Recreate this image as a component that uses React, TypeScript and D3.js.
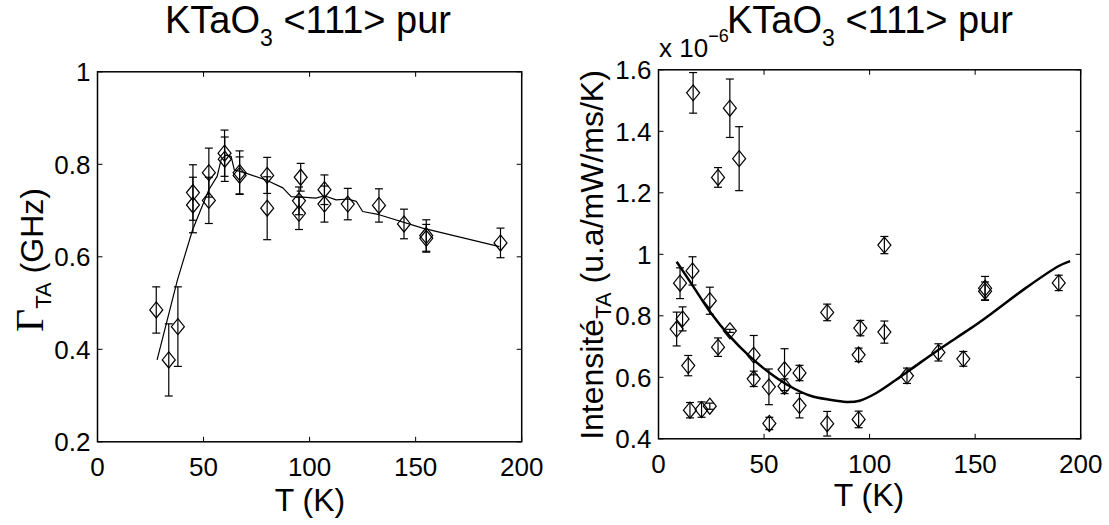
import React from 'react';
import * as d3 from 'd3';

// ---------- data ----------
const xTicks = [0, 50, 100, 150, 200];
const leftYTicks = [0.2, 0.4, 0.6, 0.8, 1];
const rightYTicks = [0.4, 0.6, 0.8, 1, 1.2, 1.4, 1.6];

// Left panel: Gamma_TA (GHz) vs T (K)
const gammaT = [27.7, 33.6, 37.9, 45.0, 45.0, 52.5, 52.5, 59.9, 60.0, 67.0, 67.0, 80.0, 80.0, 95.8, 95.0, 95.0, 107.0, 107.0, 118.0, 132.7, 144.5, 155.0, 155.0, 190.0];
const gammaV = [0.485, 0.377, 0.449, 0.739, 0.712, 0.782, 0.722, 0.824, 0.811, 0.782, 0.776, 0.776, 0.705, 0.772, 0.721, 0.694, 0.745, 0.714, 0.714, 0.711, 0.671, 0.646, 0.640, 0.630];
const gammaErr = [0.05, 0.078, 0.086, 0.06, 0.06, 0.053, 0.05, 0.05, 0.048, 0.047, 0.04, 0.039, 0.068, 0.03, 0.03, 0.035, 0.032, 0.039, 0.034, 0.036, 0.032, 0.034, 0.03, 0.032];
const gammaFitT = [28.1, 37.7, 44.8, 52.5, 56.4, 58.3, 60.6, 63, 64.5, 69.2, 79.5, 87.4, 91.3, 96.8, 103, 107, 112.5, 118, 122, 125, 132.8, 153.3, 189.5];
const gammaFitV = [0.377, 0.55, 0.658, 0.745, 0.774, 0.81, 0.82, 0.817, 0.788, 0.782, 0.766, 0.749, 0.73, 0.729, 0.727, 0.732, 0.723, 0.725, 0.72, 0.698, 0.691, 0.662, 0.622];

// Right panel: Intensite_TA (x1e-6) vs T (K)
const intT = [16.4, 33.8, 28.2, 38.2, 107, 10.2, 16.1, 24.3, 8.6, 11.4, 33.8, 28.2, 14.1, 14.9, 20.4, 24.3, 45.1, 45.1, 52.3, 52.5, 59.7, 59.7, 66.8, 66.8, 79.9, 79.9, 95.6, 94.8, 94.8, 107, 117.7, 132.6, 144.4, 154.7, 154.7, 189.6];
const intV = [1.525, 1.475, 1.25, 1.311, 1.03, 0.906, 0.946, 0.849, 0.757, 0.79, 0.751, 0.698, 0.638, 0.493, 0.495, 0.506, 0.672, 0.595, 0.569, 0.45, 0.625, 0.571, 0.614, 0.508, 0.811, 0.449, 0.76, 0.673, 0.463, 0.747, 0.605, 0.681, 0.66, 0.89, 0.88, 0.907];
const intErr = [0.066, 0.095, 0.032, 0.104, 0.028, 0.05, 0.046, 0.044, 0.055, 0.039, 0.005, 0.03, 0.033, 0.025, 0.025, 0.01, 0.064, 0.025, 0.058, 0.02, 0.068, 0.024, 0.025, 0.04, 0.027, 0.04, 0.025, 0.022, 0.027, 0.036, 0.025, 0.028, 0.024, 0.038, 0.03, 0.025];
const intFitT = [8.6, 16.5, 24.3, 33.8, 43.2, 52.7, 62.2, 71.6, 81.1, 89, 95.3, 103.2, 112.6, 122, 131.5, 141, 150.4, 158.1, 173.9, 189.6, 195];
const intFitV = [0.976, 0.895, 0.814, 0.733, 0.668, 0.614, 0.571, 0.541, 0.527, 0.52, 0.524, 0.549, 0.592, 0.638, 0.684, 0.728, 0.771, 0.809, 0.89, 0.962, 0.978];

const FONT = "'Liberation Sans', Arial, Helvetica, sans-serif";
const SERIF = "'Liberation Serif', 'Times New Roman', serif";

type PanelProps = {
  left: number; right: number; top: number; bottom: number;
  yDomain: [number, number]; yTicks: number[];
  T: number[]; V: number[]; E: number[];
  fitT: number[]; fitV: number[]; fitWidth: number; smooth: boolean;
};

function Panel(p: PanelProps) {
  const x = d3.scaleLinear().domain([0, 200]).range([p.left, p.right]);
  const y = d3.scaleLinear().domain(p.yDomain).range([p.bottom, p.top]);
  const line = d3.line<number>()
    .x((_, i) => x(p.fitT[i]))
    .y((_, i) => y(p.fitV[i]))
    .curve(p.smooth ? d3.curveCatmullRom : d3.curveLinear);
  const tl = 5;
  const cap = 4;
  const hw = 6.5, hh = 8;
  return (
    <g>
      <path d={line(p.fitV) || ''} fill="none" stroke="#000" strokeWidth={p.fitWidth} strokeLinejoin="round" />
      {p.T.map((t, i) => {
        const cx = x(t);
        const cy = y(p.V[i]);
        const y1 = y(p.V[i] - p.E[i]);
        const y2 = y(p.V[i] + p.E[i]);
        return (
          <g key={i} stroke="#000" strokeWidth={1.2} fill="none">
            <line x1={cx} x2={cx} y1={y1} y2={y2} />
            <line x1={cx - cap} x2={cx + cap} y1={y1} y2={y1} />
            <line x1={cx - cap} x2={cx + cap} y1={y2} y2={y2} />
            <path d={`M${cx},${cy - hh}L${cx + hw},${cy}L${cx},${cy + hh}L${cx - hw},${cy}Z`} />
          </g>
        );
      })}
      <rect x={p.left} y={p.top} width={p.right - p.left} height={p.bottom - p.top} fill="none" stroke="#000" strokeWidth={1.5} />
      {xTicks.map((t) => (
        <g key={'x' + t}>
          <line x1={x(t)} x2={x(t)} y1={p.bottom} y2={p.bottom - tl} stroke="#000" strokeWidth={1} />
          <line x1={x(t)} x2={x(t)} y1={p.top} y2={p.top + tl} stroke="#000" strokeWidth={1} />
          <text x={x(t)} y={p.bottom + 34} textAnchor="middle" fontSize={26} fontFamily={FONT}>{String(t)}</text>
        </g>
      ))}
      {p.yTicks.map((t) => (
        <g key={'y' + t}>
          <line x1={p.left} x2={p.left + tl} y1={y(t)} y2={y(t)} stroke="#000" strokeWidth={1} />
          <line x1={p.right} x2={p.right - tl} y1={y(t)} y2={y(t)} stroke="#000" strokeWidth={1} />
          <text x={p.left - 7} y={y(t) + 9.5} textAnchor="end" fontSize={26} fontFamily={FONT}>{String(t)}</text>
        </g>
      ))}
    </g>
  );
}

export default function App() {
  return (
    <svg width={1109} height={525} style={{ position: 'absolute', left: 0, top: 0, background: '#fff' }} fontFamily={FONT}>
      <rect x={0} y={0} width={1109} height={525} fill="#fff" />
      <Panel left={97.5} right={521.7} top={71.8} bottom={441.8} yDomain={[0.2, 1]} yTicks={leftYTicks}
        T={gammaT} V={gammaV} E={gammaErr} fitT={gammaFitT} fitV={gammaFitV} fitWidth={1.2} smooth={false} />
      <Panel left={658.5} right={1080.7} top={69.8} bottom={438.8} yDomain={[0.4, 1.6]} yTicks={rightYTicks}
        T={intT} V={intV} E={intErr} fitT={intFitT} fitV={intFitV} fitWidth={2.5} smooth={true} />

      {/* titles */}
      <text x={308} y={33} textAnchor="middle" fontSize={38}>
        <tspan>KTaO</tspan><tspan dy={13} fontSize={23}>3</tspan><tspan dy={-13}> &lt;111&gt; pur</tspan>
      </text>
      <text x={870} y={33} textAnchor="middle" fontSize={38}>
        <tspan>KTaO</tspan><tspan dy={13} fontSize={23}>3</tspan><tspan dy={-13}> &lt;111&gt; pur</tspan>
      </text>

      {/* x labels */}
      <text x={310} y={511} textAnchor="middle" fontSize={32}>T (K)</text>
      <text x={869} y={506} textAnchor="middle" fontSize={32}>T (K)</text>

      {/* y labels */}
      <text transform="translate(43,260) rotate(-90)" textAnchor="middle" fontSize={32}>
        <tspan fontSize={40} fontFamily={SERIF}>Γ</tspan><tspan dy={8} fontSize={22}>TA</tspan><tspan dy={-8}> (GHz)</tspan>
      </text>
      <text transform="translate(603,255) rotate(-90)" textAnchor="middle" fontSize={32}>
        <tspan>Intensité</tspan><tspan dy={8} fontSize={22}>TA</tspan><tspan dy={-8}> (u.a/mW/ms/K)</tspan>
      </text>

      {/* exponent */}
      <text x={659} y={57} fontSize={26}>
        <tspan>x 10</tspan><tspan dy={-15} fontSize={18}>−6</tspan>
      </text>
    </svg>
  );
}
